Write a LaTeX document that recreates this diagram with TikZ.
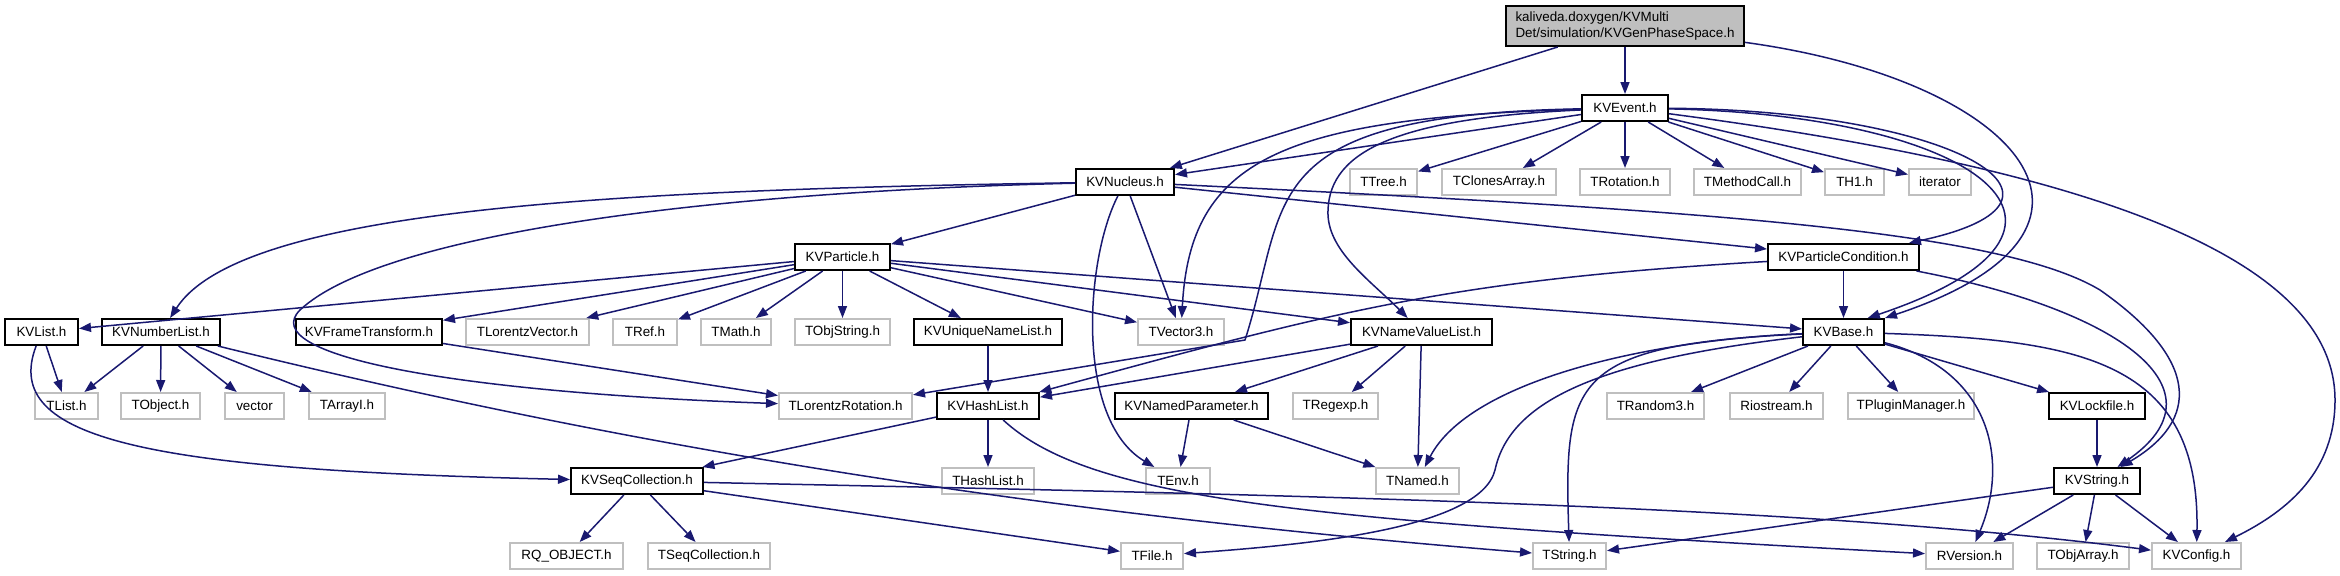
\documentclass[tikz,border=0pt]{standalone}
\usepackage{fontspec}
\setmainfont{Liberation Sans}
\usepackage{xcolor}
\usepackage{tikz}
\usetikzlibrary{arrows.meta}
\definecolor{edgeblue}{RGB}{25,25,112}
\definecolor{boxgrey}{RGB}{191,191,191}
\tikzset{
    incgraph/.style={>={Triangle[length=6pt, width=4.5pt]}, x=0.5pt, y=-0.5pt,
        font=\fontsize{6.7}{7.6}\selectfont},
    kvbox/.style={draw=black, line width=1pt, minimum height=13pt, inner sep=0pt, fill=white},
    sysbox/.style={kvbox, draw=boxgrey},
    topbox/.style={kvbox, fill=boxgrey, minimum height=20pt, align=left},
    % box width given in pixels of the graph
    bw/.style={minimum width=#1*0.5pt},
    dep/.style={->, draw=edgeblue, line width=0.75pt},
}

\begin{document}
\begin{tikzpicture}[incgraph]
    \useasboundingbox (0,0) rectangle (2340,575);

    \node[topbox, bw=238]  (mainfile)  at (1625,26)    {kaliveda.doxygen/KVMulti\\Det/simulation/KVGenPhaseSpace.h};
    \node[kvbox, bw=86]    (event)     at (1625,108)   {KVEvent.h};

    \node[kvbox, bw=98]    (nucleus)   at (1125,182)   {KVNucleus.h};
    \node[sysbox, bw=67]   (ttree)     at (1383.5,182) {TTree.h};
    \node[sysbox, bw=114]  (tclones)   at (1499,182)   {TClonesArray.h};
    \node[sysbox, bw=90]   (trot)      at (1625,182)   {TRotation.h};
    \node[sysbox, bw=107]  (tmeth)     at (1747.5,182) {TMethodCall.h};
    \node[sysbox, bw=59]   (th1)       at (1854.5,182) {TH1.h};
    \node[sysbox, bw=62]   (iter)      at (1940,182)   {iterator};

    \node[kvbox, bw=95]    (particle)  at (842.5,257)  {KVParticle.h};
    \node[kvbox, bw=151]   (pcond)     at (1843.5,257) {KVParticleCondition.h};

    \node[kvbox, bw=73]    (kvlist)    at (41.5,332)   {KVList.h};
    \node[kvbox, bw=118]   (numlist)   at (161,332)    {KVNumberList.h};
    \node[kvbox, bw=146]   (frame)     at (369,332)    {KVFrameTransform.h};
    \node[sysbox, bw=123]  (tlvec)     at (527.5,332)  {TLorentzVector.h};
    \node[sysbox, bw=64]   (tref)      at (645,332)    {TRef.h};
    \node[sysbox, bw=70]   (tmath)     at (736,332)    {TMath.h};
    \node[sysbox, bw=95]   (tobjstr)   at (842.5,332)  {TObjString.h};
    \node[kvbox, bw=148]   (uniq)      at (988,332)    {KVUniqueNameList.h};
    \node[sysbox, bw=86]   (tvec3)     at (1181,332)   {TVector3.h};
    \node[kvbox, bw=141]   (nvlist)    at (1421.5,332) {KVNameValueList.h};
    \node[kvbox, bw=81]    (kvbase)    at (1843.5,332) {KVBase.h};

    \node[sysbox, bw=63]   (tlist)     at (66.5,406)   {TList.h};
    \node[sysbox, bw=79]   (tobject)   at (160.5,406)  {TObject.h};
    \node[sysbox, bw=59]   (vect)      at (254.5,406)  {vector};
    \node[sysbox, bw=76]   (tarrayi)   at (347,406)    {TArrayI.h};
    \node[sysbox, bw=133]  (tlrot)     at (845.5,406)  {TLorentzRotation.h};
    \node[kvbox, bw=102]   (hashlist)  at (988,406)    {KVHashList.h};
    \node[kvbox, bw=153]   (namedpar)  at (1191.5,406) {KVNamedParameter.h};
    \node[sysbox, bw=85]   (tregexp)   at (1335.5,406) {TRegexp.h};
    \node[sysbox, bw=97]   (trandom)   at (1655.5,406) {TRandom3.h};
    \node[sysbox, bw=93]   (riostream) at (1776.5,406) {Riostream.h};
    \node[sysbox, bw=126]  (tplugin)   at (1911,406)   {TPluginManager.h};
    \node[kvbox, bw=96]    (lockfile)  at (2097,406)   {KVLockfile.h};

    \node[kvbox, bw=132]   (seqcoll)   at (637,481)    {KVSeqCollection.h};
    \node[sysbox, bw=92]   (thashlist) at (988,481)    {THashList.h};
    \node[sysbox, bw=64]   (tenv)      at (1178,481)   {TEnv.h};
    \node[sysbox, bw=83]   (tnamed)    at (1417.5,481) {TNamed.h};
    \node[kvbox, bw=86]    (kvstring)  at (2097,481)   {KVString.h};

    \node[sysbox, bw=113]  (rqobj)     at (566.5,556)  {RQ\_OBJECT.h};
    \node[sysbox, bw=122]  (tseqcoll)  at (709,556)    {TSeqCollection.h};
    \node[sysbox, bw=62]   (tfile)     at (1152,556)   {TFile.h};
    \node[sysbox, bw=73]   (tstring)   at (1569.5,556) {TString.h};
    \node[sysbox, bw=87]   (rversion)  at (1969.5,556) {RVersion.h};
    \node[sysbox, bw=92]   (tobjarray) at (2083,556)   {TObjArray.h};
    \node[sysbox, bw=89]   (kvconfig)  at (2196.5,556) {KVConfig.h};

    % main file
    \draw[dep] (mainfile) -- (event);
    \draw[dep] (mainfile) -- (nucleus);
    \draw[dep] (mainfile) .. controls (2020,80) and (2150,230) .. (kvbase.north east);

    % KVEvent.h
    \draw[dep] (event) -- (nucleus);
    \draw[dep] (event) -- (ttree);
    \draw[dep] (event) -- (tclones);
    \draw[dep] (event) -- (trot);
    \draw[dep] (event) -- (tmeth);
    \draw[dep] (event) -- (th1);
    \draw[dep] (event) -- (iter);
    \draw[dep] (event) .. controls (1280,118) and (1190,160) .. (tvec3);
    \draw[dep] (event) .. controls (1250,115) and (1290,200) .. (1245,340) -- (tlrot);
    \draw[dep] (event) .. controls (1400,118) and (1330,150) .. (1328,210)
        .. controls (1326,250) and (1370,280) .. (nvlist);
    \draw[dep] (event) .. controls (1950,110) and (2110,200) .. (pcond);
    \draw[dep] (event) .. controls (1980,115) and (2130,230) .. (kvbase.30);
    \draw[dep] (event) .. controls (2100,170) and (2335,260) .. (2335,400)
        .. controls (2335,470) and (2290,510) .. (kvconfig);

    % KVNucleus.h
    \draw[dep] (nucleus) -- (particle);
    \draw[dep] (nucleus) -- (tvec3);
    \draw[dep] (nucleus) -- (pcond);
    \draw[dep] (nucleus) .. controls (1085,260) and (1075,420) .. (tenv);
    \draw[dep] (nucleus) .. controls (600,190) and (240,210) .. (numlist);
    \draw[dep] (nucleus) .. controls (700,192) and (380,235) .. (300,310)
        .. controls (255,355) and (450,392) .. (tlrot);
    \draw[dep] (nucleus) .. controls (1700,210) and (2000,230) .. (2100,290)
        .. controls (2200,360) and (2200,420) .. (kvstring);

    % KVParticle.h
    \foreach \dst in {kvlist, frame, tlvec, tref, tmath, tobjstr, uniq, tvec3, nvlist, kvbase}
        \draw[dep] (particle) -- (\dst);

    % lists
    \draw[dep] (kvlist) -- (tlist);
    \draw[dep] (kvlist) .. controls (0,440) and (150,470) .. (seqcoll);
    \foreach \dst in {tlist, tobject, vect, tarrayi}
        \draw[dep] (numlist) -- (\dst);
    \draw[dep] (numlist) .. controls (600,440) and (1000,510) .. (tstring);
    \draw[dep] (frame) -- (tlrot);
    \draw[dep] (uniq) -- (hashlist);
    \foreach \dst in {hashlist, namedpar, tregexp, tnamed}
        \draw[dep] (nvlist) -- (\dst);

    % KVParticleCondition.h
    \draw[dep] (pcond) -- (kvbase);
    \draw[dep] (pcond) .. controls (1450,280) and (1340,310) .. (hashlist);
    \draw[dep] (pcond) .. controls (2120,310) and (2230,390) .. (kvstring);

    % KVBase.h
    \foreach \dst in {trandom, riostream, tplugin, lockfile}
        \draw[dep] (kvbase) -- (\dst);
    \draw[dep] (kvbase) .. controls (1650,340) and (1470,380) .. (tnamed);
    \draw[dep] (kvbase) .. controls (1600,360) and (1510,400) .. (1495,470)
        .. controls (1480,530) and (1300,545) .. (tfile);
    \draw[dep] (kvbase) .. controls (1570,345) and (1564,380) .. (tstring);
    \draw[dep] (kvbase) .. controls (1990,370) and (2010,460) .. (rversion);
    \draw[dep] (kvbase) .. controls (2080,340) and (2200,360) .. (kvconfig);
    \draw[dep] (lockfile) -- (kvstring);

    % KVHashList.h
    \draw[dep] (hashlist) -- (thashlist);
    \draw[dep] (hashlist) -- (seqcoll);
    \draw[dep] (hashlist) .. controls (1090,500) and (1300,520) .. (rversion);
    \draw[dep] (namedpar) -- (tenv);
    \draw[dep] (namedpar) -- (tnamed);

    % KVSeqCollection.h
    \draw[dep] (seqcoll) -- (rqobj);
    \draw[dep] (seqcoll) -- (tseqcoll);
    \draw[dep] (seqcoll) -- (tfile);
    \draw[dep] (seqcoll) .. controls (1300,495) and (1800,505) .. (kvconfig);

    % KVString.h
    \foreach \dst in {tstring, rversion, tobjarray, kvconfig}
        \draw[dep] (kvstring) -- (\dst);
\end{tikzpicture}
\end{document}
